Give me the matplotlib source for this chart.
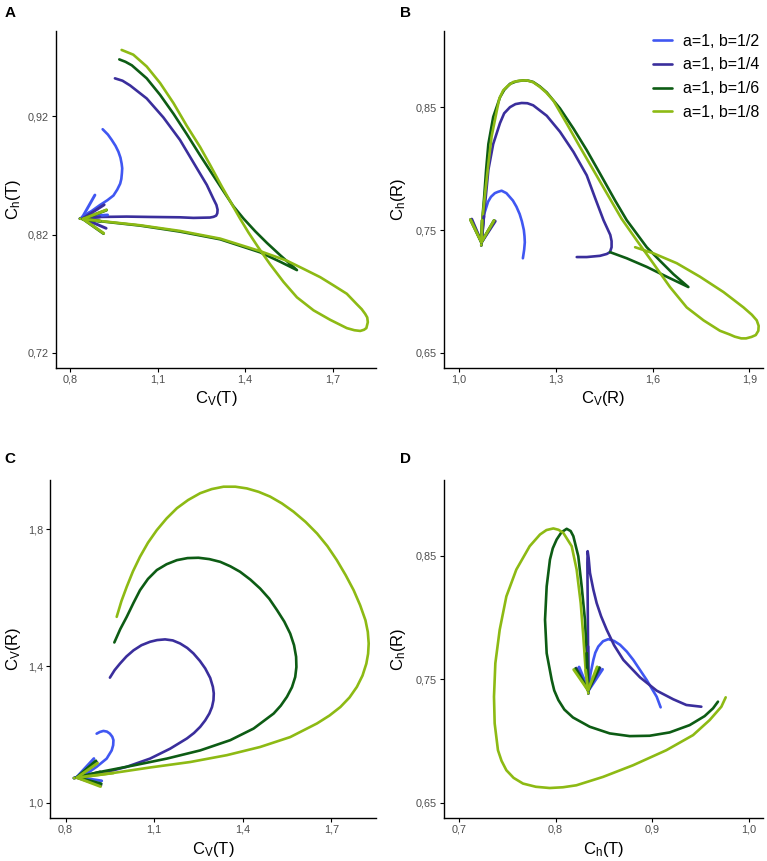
import numpy as np
import matplotlib.pyplot as plt

plt.rcParams['font.family'] = ['Liberation Sans', 'DejaVu Sans']
plt.rcParams['mathtext.fontset'] = 'custom'
plt.rcParams['mathtext.rm'] = 'Liberation Sans'
plt.rcParams['mathtext.it'] = 'Liberation Sans'

labels = ['a=1, b=1/2', 'a=1, b=1/4', 'a=1, b=1/6', 'a=1, b=1/8']
colors = ['#4057F2', '#3A2E9C', '#0D5C14', '#8DBA14']

# --- panel A: Cv(T) vs Ch(T) ---
a_b2 = [(0.912, 0.909), (0.930, 0.9045), (0.943, 0.900), (0.956, 0.895), (0.966, 0.890),
        (0.973, 0.885), (0.977, 0.880), (0.979, 0.876), (0.978, 0.872), (0.976, 0.867),
        (0.972, 0.863), (0.962, 0.858), (0.949, 0.853), (0.928, 0.849), (0.903, 0.845),
        (0.869, 0.839), (0.834, 0.8335)]
a_b4 = [(0.954, 0.952), (0.980, 0.950), (1.006, 0.946), (1.063, 0.935), (1.120, 0.919),
        (1.177, 0.900), (1.235, 0.876), (1.269, 0.862), (1.292, 0.850), (1.302, 0.845),
        (1.306, 0.841), (1.305, 0.838), (1.301, 0.836), (1.292, 0.8350), (1.280, 0.8344),
        (1.223, 0.8341), (1.177, 0.8346), (1.075, 0.8349), (0.994, 0.8352), (0.903, 0.8349),
        (0.834, 0.8335)]
a_b6 = [(0.969, 0.968), (0.990, 0.966), (1.012, 0.963), (1.063, 0.952), (1.109, 0.938),
        (1.155, 0.922), (1.200, 0.905), (1.246, 0.887), (1.275, 0.876), (1.320, 0.859),
        (1.360, 0.844), (1.395, 0.8335), (1.435, 0.8228), (1.475, 0.813), (1.521, 0.8025),
        (1.578, 0.790), (1.521, 0.797), (1.452, 0.805), (1.315, 0.816), (1.177, 0.8225),
        (1.040, 0.8276), (0.903, 0.8313), (0.834, 0.8335)]
a_b8 = [(0.977, 0.976), (0.997, 0.974), (1.017, 0.972), (1.040, 0.967), (1.063, 0.962),
        (1.109, 0.948), (1.155, 0.931), (1.200, 0.912), (1.246, 0.894), (1.280, 0.879),
        (1.320, 0.8608), (1.355, 0.8456), (1.383, 0.8335), (1.412, 0.8217), (1.446, 0.809),
        (1.486, 0.7949), (1.532, 0.780), (1.578, 0.767), (1.635, 0.756),
        (1.692, 0.748), (1.749, 0.741), (1.775, 0.7392), (1.795, 0.7386), (1.808, 0.7396),
        (1.816, 0.741), (1.821, 0.746), (1.819, 0.750), (1.812, 0.753), (1.800, 0.757),
        (1.784, 0.761), (1.749, 0.770), (1.704, 0.777), (1.658, 0.784), (1.601, 0.791),
        (1.543, 0.798), (1.452, 0.806), (1.315, 0.8166), (1.177, 0.8231), (1.040, 0.8279),
        (0.903, 0.8315), (0.834, 0.8335)]

# --- panel B: Cv(R) vs Ch(R) ---
b_b2 = [(1.198, 0.727), (1.202, 0.734), (1.204, 0.740), (1.203, 0.745), (1.201, 0.750),
        (1.195, 0.757), (1.188, 0.763), (1.178, 0.769), (1.167, 0.774), (1.147, 0.780),
        (1.132, 0.782), (1.120, 0.781), (1.111, 0.780), (1.099, 0.777), (1.090, 0.773),
        (1.078, 0.763), (1.072, 0.750), (1.069, 0.7375)]
b_b4 = [(1.365, 0.728), (1.396, 0.728), (1.437, 0.729), (1.458, 0.7305), (1.468, 0.732),
        (1.473, 0.736), (1.473, 0.741), (1.469, 0.746), (1.448, 0.758), (1.422, 0.776),
        (1.396, 0.7945), (1.355, 0.8135), (1.313, 0.830), (1.272, 0.843), (1.230, 0.8515),
        (1.212, 0.8532), (1.194, 0.8534), (1.175, 0.8525), (1.158, 0.850), (1.140, 0.845),
        (1.127, 0.837), (1.106, 0.820), (1.091, 0.799), (1.084, 0.780), (1.077, 0.761),
        (1.069, 0.7375)]
b_b6 = [(1.468, 0.732), (1.520, 0.727), (1.582, 0.720), (1.644, 0.712), (1.711, 0.7036),
        (1.665, 0.714), (1.623, 0.725), (1.582, 0.736), (1.551, 0.747), (1.520, 0.758),
        (1.484, 0.774), (1.437, 0.796), (1.396, 0.815), (1.355, 0.8325), (1.313, 0.849),
        (1.272, 0.862), (1.250, 0.867), (1.230, 0.8705), (1.214, 0.8716), (1.199, 0.8718),
        (1.178, 0.8710), (1.158, 0.869), (1.140, 0.864), (1.127, 0.858), (1.106, 0.842),
        (1.091, 0.820), (1.084, 0.799), (1.078, 0.777), (1.072, 0.758), (1.069, 0.7375)]
b_b8 = [(1.546, 0.736), (1.603, 0.731), (1.675, 0.723), (1.747, 0.712), (1.820, 0.6995),
        (1.882, 0.687), (1.908, 0.681), (1.923, 0.6765), (1.929, 0.672), (1.928, 0.668),
        (1.920, 0.6645), (1.907, 0.663), (1.890, 0.6618), (1.875, 0.6618), (1.855, 0.6632),
        (1.839, 0.665), (1.809, 0.668), (1.758, 0.6765), (1.706, 0.687), (1.654, 0.7036),
        (1.603, 0.7226), (1.551, 0.7416), (1.504, 0.7592), (1.458, 0.780), (1.417, 0.7986),
        (1.375, 0.8176), (1.334, 0.8366), (1.292, 0.8556), (1.270, 0.862), (1.251, 0.8664),
        (1.230, 0.8703), (1.210, 0.8718), (1.188, 0.8716), (1.168, 0.8705), (1.150, 0.867),
        (1.137, 0.8637), (1.125, 0.857), (1.117, 0.847), (1.101, 0.826), (1.091, 0.804),
        (1.081, 0.780), (1.072, 0.758), (1.069, 0.7375)]

# --- panel C: Cv(T) vs Cv(R) ---
c_b2 = [(0.905, 1.202), (0.916, 1.207), (0.928, 1.210), (0.940, 1.208), (0.950, 1.202),
        (0.958, 1.193), (0.962, 1.183), (0.961, 1.168), (0.956, 1.153), (0.939, 1.129),
        (0.905, 1.105), (0.871, 1.085), (0.828, 1.072)]
c_b4 = [(0.950, 1.366), (0.966, 1.388), (0.984, 1.407), (1.006, 1.428), (1.030, 1.446),
        (1.057, 1.461), (1.086, 1.471), (1.110, 1.476), (1.137, 1.478), (1.163, 1.475),
        (1.188, 1.466), (1.212, 1.453), (1.233, 1.437), (1.255, 1.415), (1.273, 1.393),
        (1.290, 1.365), (1.299, 1.339), (1.302, 1.320), (1.301, 1.300), (1.296, 1.280),
        (1.287, 1.261), (1.273, 1.241), (1.256, 1.222), (1.235, 1.204), (1.211, 1.188),
        (1.154, 1.158), (1.086, 1.129), (1.007, 1.105), (0.917, 1.085), (0.828, 1.072)]
c_b6 = [(0.965, 1.469), (0.985, 1.508), (1.007, 1.544), (1.030, 1.585), (1.052, 1.622),
        (1.079, 1.655), (1.109, 1.681), (1.142, 1.698), (1.177, 1.710), (1.213, 1.716),
        (1.250, 1.717), (1.287, 1.713), (1.324, 1.705), (1.358, 1.692), (1.391, 1.676),
        (1.426, 1.653), (1.459, 1.627), (1.490, 1.597), (1.516, 1.564), (1.541, 1.530),
        (1.561, 1.495), (1.574, 1.461), (1.581, 1.427), (1.582, 1.397), (1.578, 1.368),
        (1.567, 1.338), (1.550, 1.310), (1.529, 1.284), (1.505, 1.261), (1.437, 1.217),
        (1.358, 1.183), (1.256, 1.153), (1.143, 1.129), (1.030, 1.109), (0.917, 1.090),
        (0.828, 1.072)]
c_b8 = [(0.973, 1.544), (0.989, 1.590), (1.007, 1.632), (1.028, 1.677), (1.052, 1.720),
        (1.079, 1.761), (1.109, 1.798), (1.142, 1.832), (1.177, 1.862), (1.215, 1.886),
        (1.256, 1.906), (1.295, 1.918), (1.335, 1.925), (1.375, 1.925), (1.414, 1.920),
        (1.454, 1.910), (1.493, 1.896), (1.533, 1.876), (1.572, 1.852), (1.613, 1.822),
        (1.652, 1.788), (1.687, 1.751), (1.719, 1.710), (1.749, 1.666), (1.776, 1.622),
        (1.798, 1.578), (1.816, 1.534), (1.824, 1.500), (1.827, 1.466), (1.825, 1.436),
        (1.819, 1.407), (1.806, 1.372), (1.787, 1.339), (1.762, 1.308), (1.731, 1.280),
        (1.694, 1.255), (1.652, 1.232), (1.561, 1.192), (1.459, 1.163), (1.346, 1.139),
        (1.222, 1.119), (1.086, 1.103), (0.962, 1.087), (0.828, 1.072)]

# --- panel D: Ch(T) vs Ch(R) ---
d_b2 = [(0.9086, 0.7273), (0.9045, 0.7359), (0.8941, 0.7495), (0.8803, 0.7657), (0.8736, 0.7724),
        (0.8666, 0.7779), (0.8605, 0.7810), (0.8545, 0.7825), (0.8490, 0.7808), (0.8441, 0.7765),
        (0.8410, 0.7715), (0.8390, 0.7657), (0.8355, 0.7522), (0.8338, 0.7386)]
d_b4 = [(0.9507, 0.7278), (0.9352, 0.7292), (0.9217, 0.7338), (0.9045, 0.7408), (0.8872, 0.7516),
        (0.8700, 0.7657), (0.8605, 0.7775), (0.8528, 0.7901), (0.8470, 0.8010), (0.8424, 0.8117),
        (0.8390, 0.8225), (0.8355, 0.8361), (0.8341, 0.8482), (0.8331, 0.8537), (0.8328, 0.8442),
        (0.8331, 0.8171), (0.8335, 0.7765), (0.8338, 0.7386)]
d_b6 = [(0.9679, 0.7319), (0.9628, 0.7265), (0.9541, 0.7202), (0.9386, 0.7129), (0.9179, 0.7070),
        (0.8972, 0.7043), (0.8766, 0.7040), (0.8559, 0.7062), (0.8352, 0.7116), (0.8179, 0.7191),
        (0.8090, 0.7255), (0.8028, 0.7332), (0.7985, 0.7410), (0.7959, 0.7495), (0.7907, 0.7711),
        (0.7890, 0.7982), (0.7907, 0.8252), (0.7941, 0.8469), (0.7970, 0.8560), (0.8010, 0.8631),
        (0.8060, 0.8690), (0.8114, 0.8718), (0.8155, 0.8700), (0.8183, 0.8658), (0.8234, 0.8496),
        (0.8269, 0.8252), (0.8303, 0.7982), (0.8321, 0.7711), (0.8338, 0.7386)]
d_b8 = [(0.9759, 0.7354), (0.9714, 0.7278), (0.9593, 0.7170), (0.9421, 0.7048), (0.9145, 0.6926),
        (0.8800, 0.6804), (0.8490, 0.6710), (0.8214, 0.6642), (0.8075, 0.6626), (0.7938, 0.6620),
        (0.7795, 0.6630), (0.7662, 0.6656), (0.7565, 0.6702), (0.7490, 0.6764), (0.7440, 0.6840),
        (0.7403, 0.6926), (0.7369, 0.7143), (0.7362, 0.7359), (0.7376, 0.7630), (0.7421, 0.7901),
        (0.7490, 0.8171), (0.7593, 0.8388), (0.7731, 0.8577), (0.7838, 0.8672), (0.7905, 0.8708),
        (0.7976, 0.8721), (0.8030, 0.8710), (0.8079, 0.8685), (0.8166, 0.8577), (0.8217, 0.8388),
        (0.8259, 0.8117), (0.8286, 0.7846), (0.8310, 0.7576), (0.8338, 0.7386)]

a_xticks, a_xlabels = [0.8, 1.1, 1.4, 1.7], ['0,8', '1,1', '1,4', '1,7']
a_yticks, a_ylabels = [0.72, 0.82, 0.92], ['0,72', '0,82', '0,92']
b_xticks, b_xlabels = [1.0, 1.3, 1.6, 1.9], ['1,0', '1,3', '1,6', '1,9']
b_yticks, b_ylabels = [0.65, 0.75, 0.85], ['0,65', '0,75', '0,85']
c_xticks, c_xlabels = [0.8, 1.1, 1.4, 1.7], ['0,8', '1,1', '1,4', '1,7']
c_yticks, c_ylabels = [1.0, 1.4, 1.8], ['1,0', '1,4', '1,8']
d_xticks, d_xlabels = [0.7, 0.8, 0.9, 1.0], ['0,7', '0,8', '0,9', '1,0']
d_yticks, d_ylabels = [0.65, 0.75, 0.85], ['0,65', '0,75', '0,85']


def draw_panel(ax, curves, xlim, ylim, xticks, xlabels, yticks, ylabels, xtitle, ytitle, ylab_x):
    for pts, color, lab in zip(curves, colors, labels):
        pts = np.array(pts)
        ax.plot(pts[:, 0], pts[:, 1], color=color, lw=1.9, label=lab,
                solid_capstyle='round', solid_joinstyle='round')
        # open arrow head at the end of each trajectory
        ax.annotate('', xy=pts[-1], xytext=pts[-2],
                    arrowprops=dict(arrowstyle='->,head_length=1.6,head_width=0.85',
                                    color=color, lw=2.1, shrinkA=0, shrinkB=0,
                                    mutation_scale=10))
    ax.set_xlim(xlim)
    ax.set_ylim(ylim)
    ax.set_xticks(xticks)
    ax.set_xticklabels(xlabels)
    ax.set_yticks(yticks)
    ax.set_yticklabels(ylabels)
    for s in ['top', 'right']:
        ax.spines[s].set_visible(False)
    for s in ['left', 'bottom']:
        ax.spines[s].set_linewidth(1.0)
    ax.tick_params(labelsize=7.8, labelcolor='#4D4D4D', length=3, width=0.8, pad=2)
    ax.set_xlabel(xtitle, fontsize=12)
    ax.set_ylabel(ytitle, fontsize=12)
    ax.xaxis.label.set_va('center')
    ax.yaxis.label.set_va('center')
    ax.xaxis.set_label_coords(0.5, -0.092)
    ax.yaxis.set_label_coords(ylab_x, 0.5)


fig = plt.figure(figsize=(7.67, 8.61), dpi=100)
ax_a = fig.add_axes([0.0730, 0.5726, 0.4172, 0.3914])
ax_b = fig.add_axes([0.5789, 0.5726, 0.4159, 0.3914])
ax_c = fig.add_axes([0.0652, 0.0499, 0.4250, 0.3926])
ax_d = fig.add_axes([0.5789, 0.0499, 0.4159, 0.3926])

draw_panel(ax_a, [a_b2, a_b4, a_b6, a_b8], (0.752, 1.849), (0.7073, 0.992),
           a_xticks, a_xlabels, a_yticks, a_ylabels,
           r'$\mathregular{C_V(T)}$', r'$\mathregular{C_h(T)}$', -0.134)
draw_panel(ax_b, [b_b2, b_b4, b_b6, b_b8], (0.9535, 1.9425), (0.6377, 0.912),
           b_xticks, b_xlabels, b_yticks, b_ylabels,
           r'$\mathregular{C_V(R)}$', r'$\mathregular{C_h(R)}$', -0.144)
draw_panel(ax_c, [c_b2, c_b4, c_b6, c_b8], (0.747, 1.8517), (0.955, 1.9446),
           c_xticks, c_xlabels, c_yticks, c_ylabels,
           r'$\mathregular{C_V(T)}$', r'$\mathregular{C_V(R)}$', -0.113)
draw_panel(ax_d, [d_b2, d_b4, d_b6, d_b8], (0.6845, 1.0145), (0.6377, 0.9113),
           d_xticks, d_xlabels, d_yticks, d_ylabels,
           r'$\mathregular{C_h(T)}$', r'$\mathregular{C_h(R)}$', -0.144)

ax_b.legend(loc='upper right', bbox_to_anchor=(1.035, 1.035), frameon=False, fontsize=11.5,
            handlelength=1.2, handletextpad=0.7, labelspacing=0.55)

for letter, x, y in [('A', 0.006, 0.985), ('B', 0.521, 0.985),
                     ('C', 0.006, 0.467), ('D', 0.521, 0.467)]:
    fig.text(x, y, letter, fontsize=11, fontweight='bold', va='center')

fig.savefig('out.png', dpi=100)
